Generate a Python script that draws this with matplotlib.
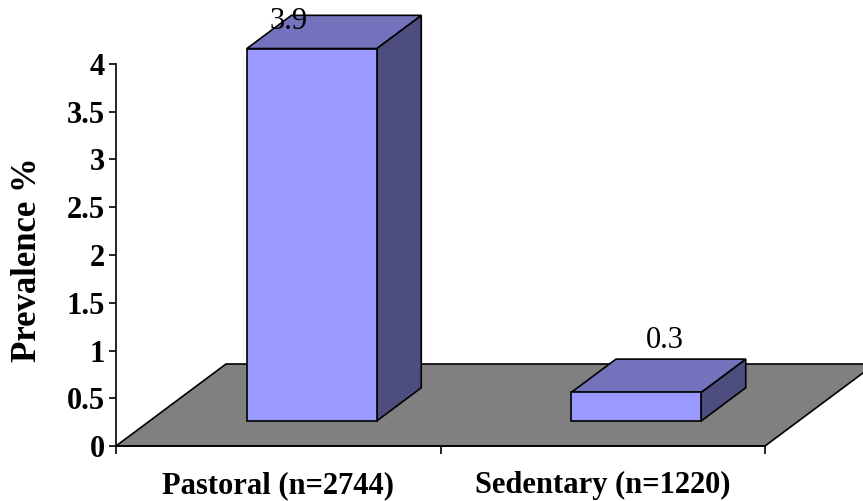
import matplotlib
matplotlib.use("Agg")
import matplotlib.pyplot as plt
from matplotlib.patches import Polygon

# datos
categorias = ["Pastoral (n=2744)", "Sedentary (n=1220)"]
prevalencia = [3.9, 0.3]
etiquetas = ["3.9", "0.3"]

# colores de las caras de la barra y del piso
c_frente = "#9999FF"
c_arriba = "#7373BD"
c_lado = "#4D4D80"
c_piso = "#808080"

plt.rcParams["font.family"] = ["Liberation Serif", "DejaVu Serif"]

fig = plt.figure(figsize=(8.63, 5.01), dpi=100)
ax = fig.add_axes([116 / 863, 55 / 501, 649 / 863, 382 / 501])
ax.set_xlim(0, len(categorias))
ax.set_ylim(0, 4)

# profundidad del piso en unidades de datos (efecto 3D)
px_x = 649 / len(categorias)
px_y = 382 / 4
prof_x = 110 / px_x
prof_y = 82 / px_y

# posicion de la barra dentro de la profundidad
f0, f1 = 0.305, 0.71
ancho = 0.40

# piso gris
piso = Polygon([(0, 0), (2, 0), (2 + prof_x, prof_y), (prof_x, prof_y)],
               closed=True, facecolor=c_piso, edgecolor="black", lw=1.2,
               clip_on=False, zorder=1)
ax.add_patch(piso)

for i, v in enumerate(prevalencia):
    x0 = i + 0.5 - ancho / 2 + f0 * prof_x
    x1 = x0 + ancho
    y0 = f0 * prof_y
    dx = (f1 - f0) * prof_x
    dy = (f1 - f0) * prof_y
    frente = [(x0, y0), (x1, y0), (x1, y0 + v), (x0, y0 + v)]
    arriba = [(x0, y0 + v), (x1, y0 + v), (x1 + dx, y0 + v + dy), (x0 + dx, y0 + v + dy)]
    lado = [(x1, y0), (x1 + dx, y0 + dy), (x1 + dx, y0 + v + dy), (x1, y0 + v)]
    for pts, col in [(lado, c_lado), (arriba, c_arriba), (frente, c_frente)]:
        ax.add_patch(Polygon(pts, closed=True, facecolor=col, edgecolor="black",
                             lw=1.2, clip_on=False, zorder=3, joinstyle="miter"))

    # etiqueta del valor, encima de la barra (limitada al borde superior)
    ly = min(y0 + v + dy + 0.19, 4.45)
    lx = x0 + ancho / 2 + dx / 2 + 0.02
    if ly >= 4.45:
        lx -= 0.16
    ax.text(lx, ly, etiquetas[i], ha="center", va="center", fontsize=22,
            zorder=5, clip_on=False)

# ejes
for s in ["top", "right"]:
    ax.spines[s].set_visible(False)
ax.spines["left"].set_linewidth(1.2)
ax.spines["bottom"].set_linewidth(1.2)
ax.spines["bottom"].set_zorder(2)

ax.set_yticks([0, 0.5, 1, 1.5, 2, 2.5, 3, 3.5, 4])
ax.set_yticklabels(["0", "0.5", "1", "1.5", "2", "2.5", "3", "3.5", "4"])
ax.tick_params(axis="y", direction="out", length=5, width=1.2, pad=3,
               labelsize=22)
for t in ax.get_yticklabels():
    t.set_fontweight("bold")

ax.set_xticks([0, 1, 2])
ax.set_xticklabels([])
ax.set_xticks([0.5, 1.5], minor=True)
ax.set_xticklabels(categorias, minor=True, fontsize=22, fontweight="bold")
ax.tick_params(axis="x", which="major", direction="out", length=6, width=1.2)
ax.tick_params(axis="x", which="minor", length=0, pad=18)

ax.set_ylabel("Prevalence %", fontsize=25, fontweight="bold")
ax.yaxis.set_label_coords(-0.111, 0.487)

ax.patch.set_visible(False)
fig.savefig("out.png", dpi=100)
